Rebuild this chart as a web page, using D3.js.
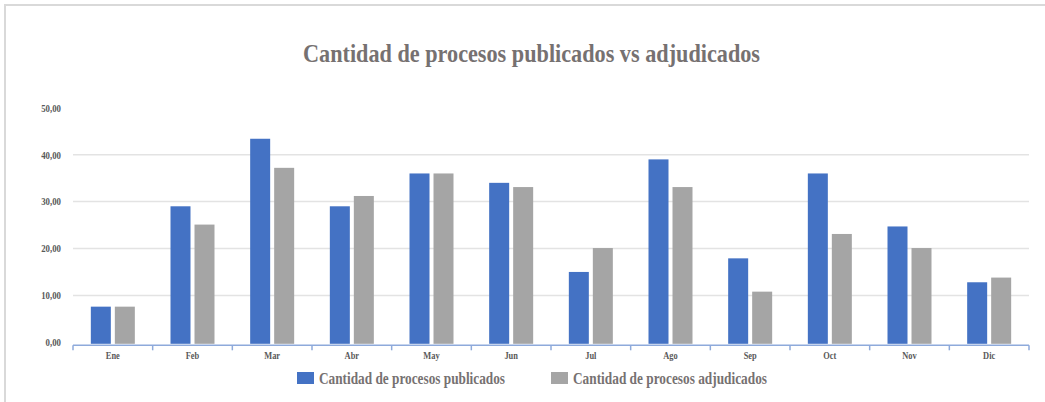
<!DOCTYPE html>
<html><head><meta charset="utf-8">
<script src="https://cdn.jsdelivr.net/npm/d3@7"></script>
<style>html,body{margin:0;padding:0;background:#fff;overflow:hidden}</style>
</head><body>
<svg id="chart" width="1045" height="402"></svg>
<script>
const months = ["Ene","Feb","Mar","Abr","May","Jun","Jul","Ago","Sep","Oct","Nov","Dic"];
const publicados = [7.6, 29, 43.4, 29, 36, 34, 15, 39, 17.9, 36, 24.7, 12.8];
const adjudicados = [7.6, 25.1, 37.2, 31.2, 36, 33.1, 20.1, 33.1, 10.8, 23.1, 20.1, 13.8];
const seriesNames = ["Cantidad de procesos publicados", "Cantidad de procesos adjudicados"];
const seriesColors = ["#4472C4", "#A5A5A5"];
const yTicks = [0, 10, 20, 30, 40, 50];
const yTickLabels = ["0,00", "10,00", "20,00", "30,00", "40,00", "50,00"];
const gridTicks = [10, 20, 30, 40];
const titleText = "Cantidad de procesos publicados vs adjudicados";

const svg = d3.select("#chart");
const font = "'Liberation Serif','Times New Roman',serif";

// outer frame (top & left border)
svg.append("rect").attr("x", 5).attr("y", 5).attr("width", 1100).attr("height", 500)
  .attr("fill", "none").attr("stroke", "#d9d9d9").attr("stroke-width", 2);

const plot = {left: 73, right: 1029, top: 107.8, bottom: 342.3};
const x0 = d3.scaleBand().domain(months).range([plot.left, plot.right]).padding(0);
const bw = x0.bandwidth();
const x1 = d3.scaleBand().domain([0, 1]).range([bw / 2 - 22, bw / 2 + 22]).paddingInner(1 / 6).paddingOuter(0);
const y = d3.scaleLinear().domain([0, 50]).range([plot.bottom, plot.top]);

// gridlines
svg.append("g").selectAll("line").data(gridTicks).join("line")
  .attr("x1", plot.left).attr("x2", plot.right)
  .attr("y1", d => y(d)).attr("y2", d => y(d))
  .attr("stroke", "#e3e3e3").attr("stroke-width", 1.5);

// bars
const data = months.map((m, i) => ({m, vals: [publicados[i], adjudicados[i]]}));
const groups = svg.append("g").selectAll("g").data(data).join("g")
  .attr("transform", d => `translate(${x0(d.m)},0)`);
groups.selectAll("rect").data(d => d.vals.map((v, k) => ({v, k}))).join("rect")
  .attr("x", d => x1(d.k)).attr("width", x1.bandwidth())
  .attr("y", d => y(d.v)).attr("height", d => y(0) - y(d.v) + 1.5)
  .attr("fill", d => seriesColors[d.k]);

// x axis
const xAxisG = svg.append("g").attr("transform", `translate(0,${y(0) + 3})`);
xAxisG.append("line").attr("x1", plot.left).attr("x2", plot.right)
  .attr("stroke", "#8eaadb").attr("stroke-width", 1.5);
const boundaries = months.map(m => x0(m)).concat([plot.right]);
xAxisG.selectAll("line.tick").data(boundaries).join("line").attr("class", "tick")
  .attr("x1", d => d).attr("x2", d => d).attr("y1", 0).attr("y2", 5)
  .attr("stroke", "#8eaadb").attr("stroke-width", 1.5);
xAxisG.selectAll("text").data(months).join("text")
  .attr("transform", d => `translate(${x0(d) + bw / 2},14) scale(0.8,1)`)
  .attr("text-anchor", "middle")
  .style("font-family", font).style("font-weight", "bold").style("font-size", "10.5px")
  .attr("fill", "#595959").text(d => d);

// y labels
svg.append("g").selectAll("text").data(yTicks).join("text")
  .attr("transform", d => `translate(61,${y(d)}) scale(0.8,1)`)
  .attr("dy", "0.35em").attr("text-anchor", "end")
  .style("font-family", font).style("font-weight", "bold").style("font-size", "11px")
  .attr("fill", "#595959").text((d, i) => yTickLabels[i]);

// title
svg.append("text").attr("x", 303).attr("y", 61.5)
  .attr("textLength", 457).attr("lengthAdjust", "spacingAndGlyphs")
  .style("font-family", font).style("font-weight", "bold").style("font-size", "26px")
  .attr("fill", "#767171").text(titleText);

// legend
const legendX = [297, 551];
const legendW = [186, 194];
const lg = svg.append("g").selectAll("g").data(seriesNames).join("g");
lg.append("rect").attr("x", (d, i) => legendX[i]).attr("y", 372).attr("width", 17).attr("height", 12)
  .attr("fill", (d, i) => seriesColors[i]);
lg.append("text").attr("x", (d, i) => legendX[i] + 22).attr("y", 384)
  .attr("textLength", (d, i) => legendW[i]).attr("lengthAdjust", "spacingAndGlyphs")
  .style("font-family", font).style("font-weight", "bold").style("font-size", "16.5px")
  .attr("fill", "#767171").text(d => d);
</script>
</body></html>
